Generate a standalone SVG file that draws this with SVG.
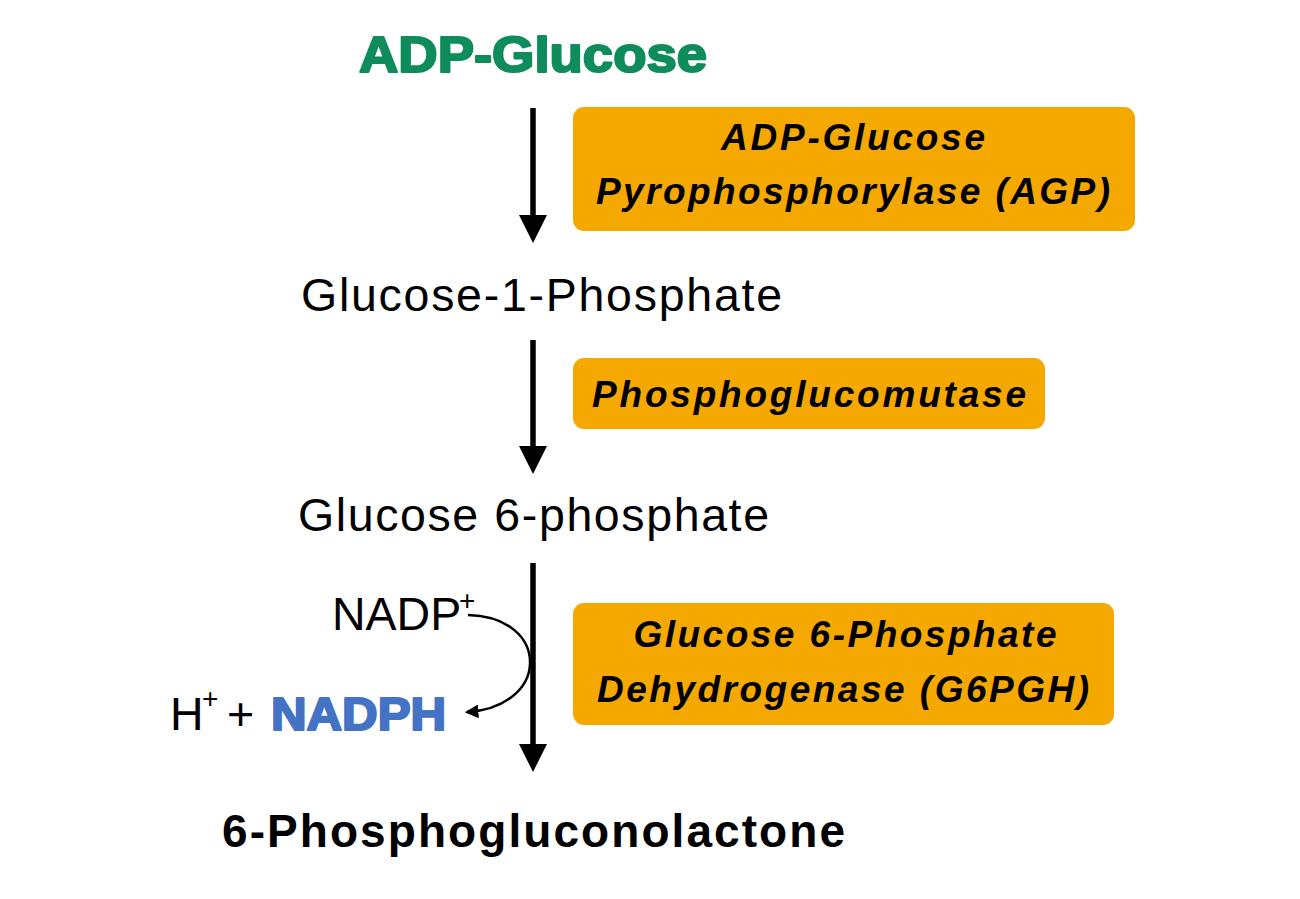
<svg xmlns="http://www.w3.org/2000/svg" width="1300" height="899" viewBox="0 0 1300 899">
<style>
.bg{fill:#ffffff}
.enz{fill:#F5A800}
.enzt{font-family:"Liberation Sans",Arial,sans-serif;font-weight:bold;font-style:italic;font-size:37px;fill:#000;text-anchor:middle}
.met{font-family:"Liberation Sans",Arial,sans-serif;font-size:46.5px;fill:#000}
.sup{font-family:"Liberation Sans",Arial,sans-serif;font-size:28px;fill:#000}
.heavy{font-family:"Liberation Sans",Arial,sans-serif;font-weight:bold;stroke-width:2.2px;stroke-linejoin:round}
.shaft{stroke:#000;stroke-width:5.5;fill:none}
.head{fill:#000}
.curve{stroke:#000;stroke-width:2.5;fill:none}
</style>
<defs>
<marker id="sm" viewBox="0 0 12 12" refX="10" refY="6" markerWidth="5.5" markerHeight="5.5" markerUnits="strokeWidth" orient="auto">
<path d="M0,0 L12,6 L0,12 z" fill="#000"/>
</marker>
</defs>
<rect class="bg" x="0" y="0" width="1300" height="899"/>

<g id="adp-glucose">
<text class="heavy" x="359" y="72" font-size="50" fill="#0E8C5C" stroke="#0E8C5C" textLength="348" lengthAdjust="spacingAndGlyphs">ADP-Glucose</text>
</g>

<g id="g1p">
<text class="met" x="301" y="311" textLength="481" lengthAdjust="spacing">Glucose-1-Phosphate</text>
</g>

<g id="g6p">
<text class="met" x="298" y="531" textLength="471" lengthAdjust="spacing">Glucose 6-phosphate</text>
</g>

<g id="pgl">
<text x="222" y="847" font-family="'Liberation Sans',Arial,sans-serif" font-weight="bold" font-size="46" fill="#000" textLength="623" lengthAdjust="spacing">6-Phosphogluconolactone</text>
</g>

<g id="nadp">
<text class="met" x="332" y="630" font-size="45">NADP</text>
<text class="sup" x="459" y="610">+</text>
</g>

<g id="nadph">
<text class="met" x="170" y="730" font-size="46">H</text>
<text class="sup" x="202" y="708">+</text>
<text class="met" x="227" y="730" font-size="46">+</text>
<text class="heavy" x="271" y="730" font-size="46" fill="#4472C4" stroke="#4472C4" textLength="175" lengthAdjust="spacingAndGlyphs">NADPH</text>
</g>

<g id="enzyme-agp">
<rect class="enz" x="573" y="107" width="562" height="124" rx="11"/>
<text class="enzt" x="853" y="150" textLength="264" lengthAdjust="spacing">ADP-Glucose</text>
<text class="enzt" x="853" y="204" textLength="514" lengthAdjust="spacing">Pyrophosphorylase (AGP)</text>
</g>

<g id="enzyme-pgm">
<rect class="enz" x="573" y="358" width="472" height="71" rx="11"/>
<text class="enzt" x="809" y="407" textLength="434" lengthAdjust="spacing">Phosphoglucomutase</text>
</g>

<g id="enzyme-g6pdh">
<rect class="enz" x="573" y="603" width="541" height="122" rx="11"/>
<text class="enzt" x="845" y="647" textLength="423" lengthAdjust="spacing">Glucose 6-Phosphate</text>
<text class="enzt" x="843" y="702" textLength="492" lengthAdjust="spacing">Dehydrogenase (G6PGH)</text>
</g>

<g id="connectors">
<line class="shaft" x1="533" y1="108" x2="533" y2="218"/>
<polygon class="head" points="519,215 547,215 533,243"/>
<line class="shaft" x1="533" y1="340" x2="533" y2="449"/>
<polygon class="head" points="519,446 547,446 533,474"/>
<line class="shaft" x1="533" y1="563" x2="533" y2="747"/>
<polygon class="head" points="519,744 547,744 533,772"/>
<path class="curve" d="M468,615 C508,616 531,638 530,664 C529,690 503,710 467,712" marker-end="url(#sm)"/>
</g>
</svg>
